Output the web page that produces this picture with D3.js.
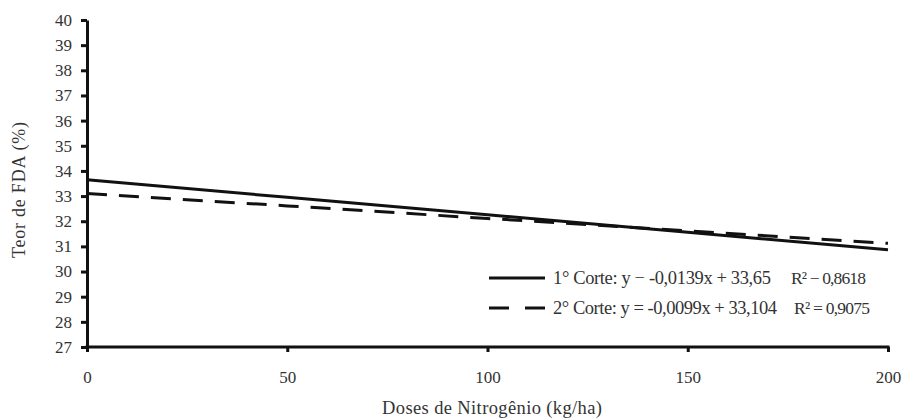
<!DOCTYPE html>
<html>
<head>
<meta charset="utf-8">
<script src="https://cdn.jsdelivr.net/npm/d3@7"></script>
<style>
  body { margin: 0; background: #fff; }
  svg text { font-family: "Liberation Serif", "Times New Roman", serif; fill: #333; }
</style>
</head>
<body>
<svg id="chart" width="904" height="418"></svg>
<script>
// doses (kg/ha) and FDA content (%)
var doses = [0, 50, 100, 150, 200];
var corte1 = [33.65, 32.95, 32.26, 31.56, 30.87];
var corte2 = [33.10, 32.61, 32.11, 31.62, 31.12];
var xTicks = [0, 50, 100, 150, 200];
var yTicks = [27, 28, 29, 30, 31, 32, 33, 34, 35, 36, 37, 38, 39, 40];
var legendEq = [
  "1\u00b0 Corte: y \u2212 -0,0139x + 33,65",
  "2\u00b0 Corte: y = -0,0099x + 33,104"
];
var legendR2 = ["R\u00b2 \u2212 0,8618", "R\u00b2 = 0,9075"];

var svg = d3.select("#chart");
var mLeft = 87, mRight = 888, mTop = 20, mBottom = 347;

var x = d3.scaleLinear().domain([0, 200]).range([mLeft, mRight]);
var y = d3.scaleLinear().domain([27, 40]).range([mBottom, mTop]);

// axes
var xAxis = svg.append("g")
    .attr("transform", "translate(0," + mBottom + ")")
    .call(d3.axisBottom(x).tickValues(xTicks).tickSize(5).tickPadding(19).tickSizeOuter(0));
var yAxis = svg.append("g")
    .attr("transform", "translate(" + mLeft + ",0)")
    .call(d3.axisLeft(y).tickValues(yTicks).tickSize(6).tickPadding(9).tickSizeOuter(0));

[xAxis, yAxis].forEach(function (a) {
  a.select(".domain").attr("stroke", "#111").attr("stroke-width", 3);
  a.selectAll(".tick line").attr("stroke", "#111").attr("stroke-width", 3);
  a.selectAll(".tick text")
    .attr("font-family", null)
    .style("font-family", "'Liberation Serif', serif")
    .style("font-size", "17px")
    .attr("fill", "#333");
});
xAxis.select(".domain").attr("d", "M" + (mLeft - 1.5) + ",0H" + (mRight + 1.5));

// lines
var line = d3.line()
    .x(function (d) { return x(d[0]); })
    .y(function (d) { return y(d[1]); });

svg.append("path")
    .datum(d3.zip(doses, corte1))
    .attr("d", line)
    .attr("fill", "none")
    .attr("stroke", "#111")
    .attr("stroke-width", 3);

svg.append("path")
    .datum(d3.zip(doses, corte2))
    .attr("d", line)
    .attr("fill", "none")
    .attr("stroke", "#111")
    .attr("stroke-width", 3)
    .attr("stroke-dasharray", "20,12");

// legend
var eqWidth = [218, 224], r2Pos = [302, 305], r2Width = [75, 76];
var legend = svg.append("g").attr("transform", "translate(489,278)");
legendEq.forEach(function (lbl, i) {
  var g = legend.append("g").attr("transform", "translate(0," + (i * 30) + ")");
  g.append("line")
    .attr("x1", 0).attr("x2", 56).attr("y1", 0).attr("y2", 0)
    .attr("stroke", "#111").attr("stroke-width", 3)
    .attr("stroke-dasharray", i === 1 ? "20,16" : null);
  g.append("text")
    .attr("x", 64).attr("y", 6)
    .style("font-size", "18.5px")
    .attr("textLength", eqWidth[i])
    .attr("lengthAdjust", "spacing")
    .text(lbl);
  g.append("text")
    .attr("x", r2Pos[i]).attr("y", 6)
    .style("font-size", "17.5px")
    .attr("textLength", r2Width[i])
    .attr("lengthAdjust", "spacing")
    .text(legendR2[i]);
});

// axis titles
svg.append("text")
  .attr("x", 382).attr("y", 414)
  .style("font-size", "18.5px")
  .attr("textLength", 220)
  .attr("lengthAdjust", "spacing")
  .text("Doses de Nitrog\u00eanio (kg/ha)");

svg.append("text")
  .attr("transform", "translate(25,258) rotate(-90)")
  .style("font-size", "18px")
  .attr("textLength", 136)
  .attr("lengthAdjust", "spacing")
  .text("Teor de FDA (%)");
</script>
</body>
</html>
